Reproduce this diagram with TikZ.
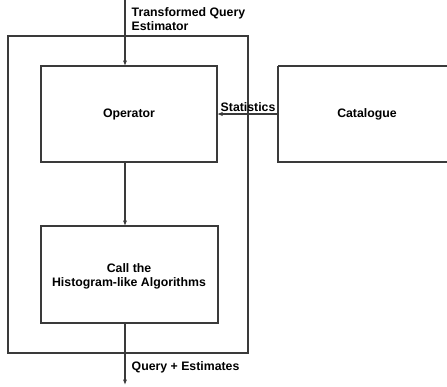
\documentclass[tikz,border=0pt]{standalone}
\usepackage{fontspec}
\setmainfont{Liberation Sans}
\usetikzlibrary{arrows.meta}
\definecolor{linegray}{HTML}{3A3A3A}
\begin{document}
\begin{tikzpicture}[x=1pt,y=-1pt,
  box/.style={draw=linegray,line width=1.3pt},
  flow/.style={draw=linegray,line width=1.1pt,-{Latex[length=5.5pt,width=4.2pt]}},
  lbl/.style={font=\fontsize{12.3}{14}\selectfont\bfseries,text=black,inner sep=0pt},
  every node/.style={font=\fontsize{12.3}{14}\selectfont\bfseries}]
\useasboundingbox (0,0) rectangle (447,386);
% outer estimator frame
\draw[box] (8,36) rectangle (248,353);
% inner blocks
\draw[box] (41,66) rectangle (217,162);
\node (op) at (129,114) {Operator};
\coordinate (opN) at (125,66);
\coordinate (opS) at (125,162);
\coordinate (opE) at (217,114);
\draw[box] (278,66) -- (460,66) (278,66) -- (278,162) -- (460,162);
\node (cat) at (367,114) {Catalogue};
\coordinate (catW) at (278,114);
\draw[box] (41,226) rectangle (218,323);
\node[align=center,inner sep=0pt] (hist) at (129,276) {Call the\\Histogram-like Algorithms};
\coordinate (histN) at (125,226);
\coordinate (histS) at (125,323);
% input and output ends
\coordinate (in) at (125,0);
\coordinate (out) at (125,385);
% connectors
\draw[flow] (in) -- (opN);
\draw[flow] (opS) -- (histN);
\draw[flow] (catW) -- (opE);
\draw[flow] (histS) -- (out);
% labels
\node[lbl,anchor=base west,align=left] (tq) at (131.5,30.7) {Transformed Query\\Estimator};
\node[lbl,anchor=base west] (st) at (220.5,111.5) {Statistics};
\node[lbl,anchor=base west] (qe) at (131.5,370) {Query + Estimates};
\end{tikzpicture}
\end{document}
